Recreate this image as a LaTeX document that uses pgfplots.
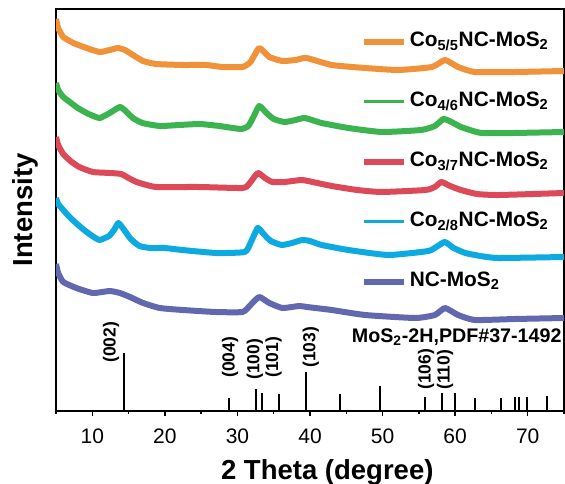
\documentclass[border=0pt]{standalone}
\usepackage{pgfplots}
\pgfplotsset{compat=1.18}
\usepackage{fontspec}
\setmainfont{Liberation Sans}
\definecolor{cOr}{HTML}{F0923A}
\definecolor{cGr}{HTML}{3BB34E}
\definecolor{cRd}{HTML}{DC4A5A}
\definecolor{cBl}{HTML}{0CAAE1}
\definecolor{cPu}{HTML}{6268B0}
\begin{document}
\begin{tikzpicture}
\path[use as bounding box] (-33.6pt,-43.2pt) rectangle (305.4pt,246.6pt);
\begin{axis}[
  at={(0,0)}, anchor=south west,
  scale only axis, width=304.8pt, height=241.2pt,
  xmin=5, xmax=75, ymin=0, ymax=402,
  xtick={10,20,...,70}, minor xtick={5,15,...,75},
  xtick pos=bottom, ytick=\empty,
  tick align=outside,
  major tick length=3pt, minor tick length=1.6pt,
  every tick/.style={black, line width=0.9pt},
  axis line style={line width=0.9pt},
  /pgf/number format/assume math mode=true,
  tick label style={font=\fontsize{12.6}{14}\selectfont},
  xticklabel style={yshift=-4pt},
  xlabel={2 Theta (degree)}, ylabel={Intensity},
  every axis x label/.style={at={(axis description cs:0.534,-0.1696)}, anchor=base, font=\fontsize{16.5}{18}\selectfont\bfseries},
  every axis y label/.style={at={(axis description cs:-0.0453,0.5)}, anchor=base, rotate=90, font=\fontsize{16.5}{18}\selectfont\bfseries},
  legend style={at={(axis description cs:0.5906,0.953)}, anchor=north west, draw=none, fill=none,
    font=\fontsize{12.5}{14}\selectfont\bfseries, row sep=24pt, column sep=0pt,
    nodes={inner xsep=1.5pt, inner ysep=0pt, text height=9pt, text depth=3pt}},
  legend cell align=left,
  legend image code/.code={\draw[#1] (0pt,0pt) -- (24pt,0pt);},
  curve/.style={smooth, tension=0.3, line join=round, line width=3.6pt},
]
\addplot[cOr, curve] coordinates {(5,392)(5.3,383)(6.0,374)(7.4,368)(9.2,363)(11.0,359)(12.4,361)(13.5,363)(14.5,361)(15.6,356)(17.0,350)(18.8,347)(22.5,346)(25.7,346)(27.9,344)(30.7,344)(31.8,349)(33.0,363)(34.4,354)(36.2,350)(38.0,351)(39.5,353)(43.0,346)(47.6,343)(52.2,341)(56.8,344)(58.6,351)(60.4,344)(62.7,339)(68.2,339)(75,340)};
\addlegendentry{Co\textsubscript{5/5}NC-MoS\textsubscript{2}}
\addplot[cGr, curve, legend image post style={line width=2pt}] coordinates {(5,328)(5.3,321)(6.0,314)(6.9,309)(8.0,303)(9.5,297)(11.0,293)(12.4,298)(13.8,304)(14.6,300)(15.6,293)(16.9,288)(19.3,285)(22,286)(24.8,287)(27.5,285)(30.5,282)(31.5,285)(32.2,294)(33.0,305)(34.0,298)(35.0,292)(36.5,289)(38.0,291)(39.3,293)(41.6,288)(45.3,283)(49.9,279)(55.3,281)(57.2,285)(58.4,292)(59.5,289)(60.8,284)(63.6,278)(68,278)(75,279)};
\addlegendentry{Co\textsubscript{4/6}NC-MoS\textsubscript{2}}
\addplot[cRd, curve] coordinates {(5,274)(5.3,266)(6.0,257)(7.0,250)(8.2,244)(10.1,239)(12.5,238)(14.0,237)(15.0,233)(16.1,229)(17.5,226)(18.9,224)(24.8,224)(30.7,223)(31.6,227)(32.8,238)(33.8,233)(34.8,229)(36.5,229)(38.9,231)(41.0,228)(43.0,225)(46.5,221)(49.9,219)(55.9,221)(57.2,224)(58.1,229)(59.3,225)(60.8,221)(63,217)(66,216)(75,218)};
\addlegendentry{Co\textsubscript{3/7}NC-MoS\textsubscript{2}}
\addplot[cBl, curve, legend image post style={line width=2pt}] coordinates {(5,213)(5.3,207)(6.0,201)(7.0,193)(8.7,182)(10.0,175)(11.0,171)(12.3,175)(13.0,181)(13.6,188)(14.4,181)(15.3,172)(16.5,165)(18.0,163)(20.0,163)(22.4,161)(27.1,158)(31.0,159)(31.8,168)(32.8,183)(33.6,177)(34.6,170)(36.1,166)(37.5,168)(38.9,171)(40.0,170)(41.6,166)(45.3,161)(50.8,156)(56.3,160)(57.6,165)(58.6,169)(59.8,163)(61.4,158)(63.5,155)(65.9,153)(75,154)};
\addlegendentry{Co\textsubscript{2/8}NC-MoS\textsubscript{2}}
\addplot[cPu, curve] coordinates {(5,147)(5.3,138)(6.0,129)(7.8,123)(10.1,118)(12.4,120)(13.8,118)(15.2,114)(17.0,108)(19.3,103)(22.5,101)(27.0,99)(30.7,99)(31.8,106)(33.0,114)(34.4,108)(36.2,103)(38.5,105)(39.6,104)(43.0,101)(47.6,96)(54.5,93)(57.2,96)(58.6,103)(60.4,96)(62.7,91)(68.2,92)(75,93)};
\addlegendentry{NC-MoS\textsubscript{2}}
\addplot[ycomb, black, line width=1.2pt, forget plot] coordinates {(14.33,58)(28.87,13)(32.53,22)(33.44,18)(35.73,17)(39.4,39)(44.1,17)(49.7,25)(55.9,14)(58.2,18)(60.0,18)(62.7,13)(66.3,13)(68.3,14)(68.8,14)(69.9,14)(72.6,15)};
\begin{scope}[every node/.style={rotate=90, anchor=west, inner sep=0pt, font=\fontsize{10.5}{12}\selectfont\bfseries}]
\node at (axis cs:12.6,48) {(002)};
\node at (axis cs:29.0,33) {(004)};
\node at (axis cs:32.4,31) {(100)};
\node at (axis cs:35.0,33) {(101)};
\node at (axis cs:40.1,43) {(103)};
\node at (axis cs:56.0,21) {(106)};
\node at (axis cs:58.6,21) {(110)};
\end{scope}
\node[anchor=east, inner sep=0pt, font=\fontsize{11.8}{13}\selectfont\bfseries] at (axis cs:74.7,74) {MoS\textsubscript{2}-2H,PDF\#37-1492};
\end{axis}
\end{tikzpicture}
\end{document}
